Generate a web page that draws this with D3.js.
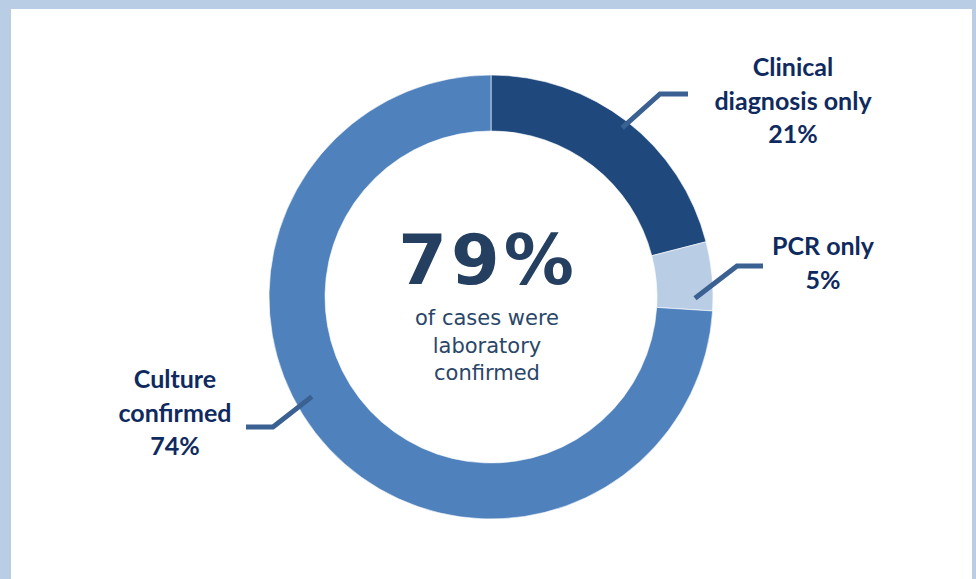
<!DOCTYPE html>
<html>
<head>
<meta charset="utf-8">
<script src="https://cdn.jsdelivr.net/npm/d3@7/dist/d3.min.js"></script>
<style>
  html, body { margin: 0; padding: 0; background: #b9cde5; }
  svg { display: block; }
</style>
</head>
<body>
<svg id="chart" width="976" height="579"></svg>
<script>
// ---- data ----
const categories = ["Clinical diagnosis only", "PCR only", "Culture confirmed"];
const values = [21, 5, 74];
const labelLines = [["Clinical", "diagnosis only", "21%"], ["PCR only", "5%"], ["Culture", "confirmed", "74%"]];
const sliceColors = ["#1f497d", "#b9cde5", "#4f81bd"];
const centerValue = "79%";
const centerLines = ["of cases were", "laboratory", "confirmed"];

// ---- layout ----
const W = 976, H = 579;
const cx = 491, cy = 297, rOuter = 222, rInner = 166;
const labelLayout = [
  { x: 793, y: 76, lead: { frac: 0.5, r: 214, elbow: [660, 94], end: [688, 94] } },
  { x: 823, y: 255, lead: { frac: 0.82, r: 204, elbow: [737, 266], end: [763, 266] } },
  { x: 175, y: 388, lead: { frac: 0.553, r: 205, elbow: [273, 427], end: [246, 427] } }
];

const svg = d3.select("#chart");
svg.append("rect").attr("x", 0).attr("y", 0).attr("width", W).attr("height", H).attr("fill", "#b9cde5");
svg.append("rect").attr("x", 11).attr("y", 9).attr("width", 961).attr("height", H).attr("fill", "#ffffff");

const pie = d3.pie().sort(null).value(d => d)(values);
const arc = d3.arc().innerRadius(rInner).outerRadius(rOuter);

const g = svg.append("g").attr("transform", `translate(${cx},${cy})`);
g.selectAll("path.slice").data(pie).enter().append("path")
  .attr("class", "slice")
  .attr("d", arc)
  .attr("fill", (d, i) => sliceColors[i])
  .attr("stroke", "#ffffff")
  .attr("stroke-width", 0.6);

// leader lines
pie.forEach((d, i) => {
  const L = labelLayout[i].lead;
  const a = d.startAngle + (d.endAngle - d.startAngle) * L.frac;
  const sx = cx + L.r * Math.sin(a), sy = cy - L.r * Math.cos(a);
  svg.append("polyline")
    .attr("points", [[sx, sy], L.elbow, L.end].map(p => p.join(",")).join(" "))
    .attr("fill", "none")
    .attr("stroke", "#3a6191")
    .attr("stroke-width", 5);
});

// labels
labelLines.forEach((lines, i) => {
  const t = svg.append("text")
    .attr("text-anchor", "middle")
    .attr("font-family", "Lato, 'Open Sans', sans-serif")
    .attr("font-weight", 700)
    .attr("font-size", 25)
    .attr("fill", "#0f2a5f");
  lines.forEach((s, j) => {
    t.append("tspan").attr("x", labelLayout[i].x).attr("y", labelLayout[i].y + j * 33.5).text(s);
  });
});

// center text
svg.append("text")
  .attr("x", 488).attr("y", 284)
  .attr("text-anchor", "middle")
  .attr("font-family", "'DejaVu Sans', Verdana, sans-serif")
  .attr("font-weight", 700)
  .attr("font-size", 70)
  .attr("letter-spacing", 4)
  .attr("fill", "#243f60")
  .text(centerValue);

const ct = svg.append("text")
  .attr("text-anchor", "middle")
  .attr("font-family", "'DejaVu Sans', Verdana, sans-serif")
  .attr("font-size", 21)
  .attr("fill", "#2a4668");
centerLines.forEach((s, j) => {
  ct.append("tspan").attr("x", 487).attr("y", 325 + j * 27.5).text(s);
});
</script>
</body>
</html>
